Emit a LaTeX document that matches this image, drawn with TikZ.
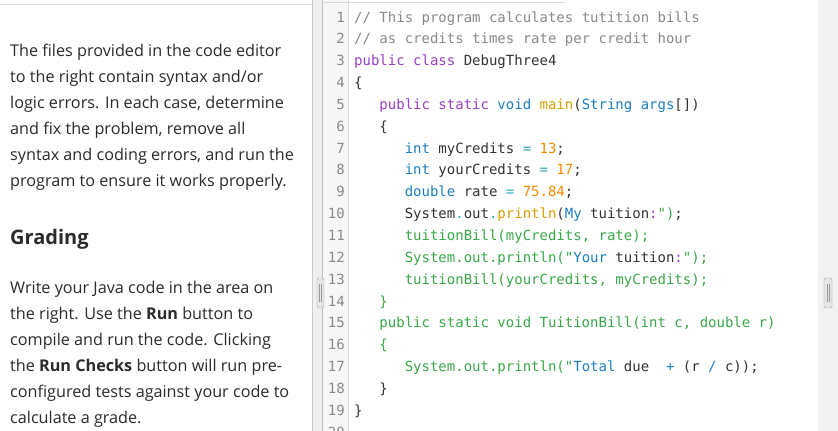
\documentclass[tikz,border=0pt]{standalone}
\usepackage{fontspec}
\setmainfont{Open Sans}
\newfontfamily\codefont{DejaVu Sans Mono}
\definecolor{cm}{HTML}{8A8A8A}
\definecolor{kw}{HTML}{9B3FC6}
\definecolor{ty}{HTML}{1C7EC2}
\definecolor{fn}{HTML}{D4A200}
\definecolor{nu}{HTML}{F28A00}
\definecolor{gr}{HTML}{3AA84A}
\definecolor{op}{HTML}{2AA6B8}
\definecolor{dk}{HTML}{333333}
\definecolor{txt}{HTML}{2B2B2B}
\newcommand{\CC}[2]{\textcolor{#1}{#2}}
\newcommand{\SP}{\hspace*{0.602em}}
\tikzset{cl/.style={anchor=base west,inner sep=0,font=\codefont\fontsize{14}{14}\selectfont,text=dk},
ln/.style={anchor=base east,inner sep=0,font=\codefont\fontsize{14}{14}\selectfont,text=cm},
lt/.style={anchor=base west,inner sep=0,font=\fontsize{16.2}{16.2}\selectfont,text=txt}}
\begin{document}
\begin{tikzpicture}[x=1pt,y=-1pt]
\useasboundingbox (0,0) rectangle (838,431);
\fill[white] (0,0) rectangle (838,431);
\draw[black!12] (0,4.5) -- (312,4.5);
\fill[black!6] (312,0) rectangle (322,431);
\draw[black!20] (312,0) -- (312,431);
\fill[black!3] (322,0) rectangle (348,431);
\draw[black!25] (322,0) -- (322,431);
\draw[black!15] (348,0) -- (348,431);
\draw[black!15] (322,2) -- (565,2);
\draw[black!25] (818,0) -- (818,431);
\fill[black!5] (818,0) rectangle (838,431);
\draw[black!35,fill=black!10,rounded corners=1.5] (317,278) rectangle (324,308);
\draw[black!35,fill=black!10,rounded corners=1.5] (824,278) rectangle (832,308);
\draw[black!40] (319.5,284)--(319.5,302) (321.5,284)--(321.5,302);
\draw[black!40] (827,284)--(827,302) (829,284)--(829,302);
\foreach \i in {1,...,19}{\node[ln] (n\i) at (345,{22+(\i-1)*21.85}) {\i};}
\node[ln] (n20) at (345,{22+19*21.85}) {20};
\def\y#1{{22+(#1-1)*21.85}}
\node[cl] (c1) at (354,\y1) {\CC{cm}{//\SP This\SP program\SP calculates\SP tutition\SP bills}};
\node[cl] (c2) at (354,\y2) {\CC{cm}{//\SP as\SP credits\SP times\SP rate\SP per\SP credit\SP hour}};
\node[cl] (c3) at (354,\y3) {\CC{kw}{public}\SP\CC{kw}{class}\SP DebugThree4};
\node[cl] (c4) at (354,\y4) {\{};
\node[cl] (c5) at (354,\y5) {\SP\SP\SP\CC{kw}{public}\SP\CC{kw}{static}\SP\CC{ty}{void}\SP\CC{fn}{main}(\CC{ty}{String}\SP\CC{ty}{args}[])};
\node[cl] (c6) at (354,\y6) {\SP\SP\SP\{};
\node[cl] (c7) at (354,\y7) {\SP\SP\SP\SP\SP\SP\CC{ty}{int}\SP myCredits\SP\CC{op}{=}\SP\CC{nu}{13};};
\node[cl] (c8) at (354,\y8) {\SP\SP\SP\SP\SP\SP\CC{ty}{int}\SP yourCredits\SP\CC{op}{=}\SP\CC{nu}{17};};
\node[cl] (c9) at (354,\y9) {\SP\SP\SP\SP\SP\SP\CC{ty}{double}\SP rate\SP\CC{op}{=}\SP\CC{nu}{75.84};};
\node[cl] (c10) at (354,\y{10}) {\SP\SP\SP\SP\SP\SP System\CC{op}{.}out\CC{op}{.}\CC{fn}{println}(\CC{ty}{My}\SP tuition\CC{kw}{:}\CC{gr}{")};};
\node[cl] (c11) at (354,\y{11}) {\SP\SP\SP\SP\SP\SP\CC{gr}{tuitionBill(myCredits,\SP rate);}};
\node[cl] (c12) at (354,\y{12}) {\SP\SP\SP\SP\SP\SP\CC{gr}{System.out.println("}\CC{ty}{Your}\SP tuition\CC{kw}{:}\CC{gr}{");}};
\node[cl] (c13) at (354,\y{13}) {\SP\SP\SP\SP\SP\SP\CC{gr}{tuitionBill(yourCredits,\SP myCredits);}};
\node[cl] (c14) at (354,\y{14}) {\SP\SP\SP\CC{gr}{\}}};
\node[cl] (c15) at (354,\y{15}) {\SP\SP\SP\CC{gr}{public\SP static\SP void\SP TuitionBill(int\SP c,\SP double\SP r)}};
\node[cl] (c16) at (354,\y{16}) {\SP\SP\SP\CC{gr}{\{}};
\node[cl] (c17) at (354,\y{17}) {\SP\SP\SP\SP\SP\SP\CC{gr}{System.out.println("}\CC{ty}{Total}\SP due\SP\SP\CC{ty}{+}\SP(r\SP\CC{ty}{/}\SP c));};
\node[cl] (c18) at (354,\y{18}) {\SP\SP\SP\}};
\node[cl] (c19) at (354,\y{19}) {\}};
\node[lt] (t1) at (10,56) {The files provided in the code editor};
\node[lt] (t2) at (10,82) {to the right contain syntax and/or};
\node[lt] (t3) at (10,108) {logic errors. In each case, determine};
\node[lt] (t4) at (10,134) {and fix the problem, remove all};
\node[lt] (t5) at (10,160) {syntax and coding errors, and run the};
\node[lt] (t6) at (10,186) {program to ensure it works properly.};
\node[anchor=base west,inner sep=0,font=\fontsize{20}{20}\selectfont\bfseries,text=txt] (g) at (10,244) {Grading};
\node[lt] (t7) at (10,293) {Write your Java code in the area on};
\node[lt] (t8) at (10,319) {the right. Use the \textbf{Run} button to};
\node[lt] (t9) at (10,345) {compile and run the code. Clicking};
\node[lt] (t10) at (10,371) {the \textbf{Run Checks} button will run pre-};
\node[lt] (t11) at (10,397) {configured tests against your code to};
\node[lt] (t12) at (10,423) {calculate a grade.};
\end{tikzpicture}
\end{document}
